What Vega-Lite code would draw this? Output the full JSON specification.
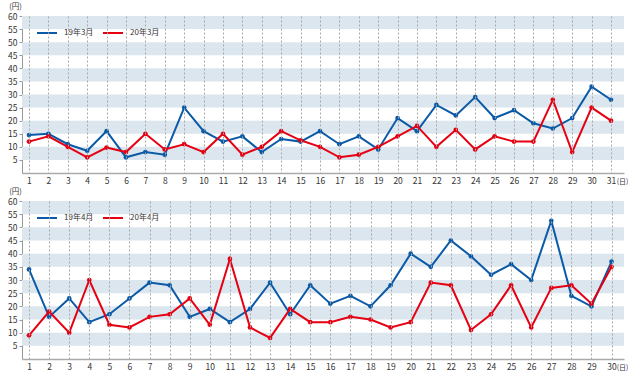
{
  "$schema": "https://vega.github.io/schema/vega-lite/v6.json",
  "padding": {"left": 7, "top": 2, "right": 0, "bottom": 0},
  "spacing": 2,
  "config": {
    "font": "Noto Sans CJK JP",
    "view": {"stroke": null},
    "axis": {"labelColor": "#333", "titleColor": "#333", "labelFont": "Noto Sans CJK JP", "titleFont": "Noto Sans CJK JP", "labelOverlap": false},
    "legend": {"labelFont": "Noto Sans CJK JP"}
  },
  "datasets": {
    "bands": [
      {"lo": 5, "hi": 10}, {"lo": 15, "hi": 20}, {"lo": 25, "hi": 30},
      {"lo": 35, "hi": 40}, {"lo": 45, "hi": 50}, {"lo": 55, "hi": 60}
    ],
    "mar": [
      {"day": 1, "series": "19年3月", "value": 14.5}, {"day": 2, "series": "19年3月", "value": 15}, {"day": 3, "series": "19年3月", "value": 11},
      {"day": 4, "series": "19年3月", "value": 8.5}, {"day": 5, "series": "19年3月", "value": 16}, {"day": 6, "series": "19年3月", "value": 6},
      {"day": 7, "series": "19年3月", "value": 8}, {"day": 8, "series": "19年3月", "value": 7}, {"day": 9, "series": "19年3月", "value": 25},
      {"day": 10, "series": "19年3月", "value": 16}, {"day": 11, "series": "19年3月", "value": 12}, {"day": 12, "series": "19年3月", "value": 14},
      {"day": 13, "series": "19年3月", "value": 8}, {"day": 14, "series": "19年3月", "value": 13}, {"day": 15, "series": "19年3月", "value": 12},
      {"day": 16, "series": "19年3月", "value": 16}, {"day": 17, "series": "19年3月", "value": 11}, {"day": 18, "series": "19年3月", "value": 14},
      {"day": 19, "series": "19年3月", "value": 9}, {"day": 20, "series": "19年3月", "value": 21}, {"day": 21, "series": "19年3月", "value": 16},
      {"day": 22, "series": "19年3月", "value": 26}, {"day": 23, "series": "19年3月", "value": 22}, {"day": 24, "series": "19年3月", "value": 29},
      {"day": 25, "series": "19年3月", "value": 21}, {"day": 26, "series": "19年3月", "value": 24}, {"day": 27, "series": "19年3月", "value": 19},
      {"day": 28, "series": "19年3月", "value": 17}, {"day": 29, "series": "19年3月", "value": 21}, {"day": 30, "series": "19年3月", "value": 33},
      {"day": 31, "series": "19年3月", "value": 28},
      {"day": 1, "series": "20年3月", "value": 12}, {"day": 2, "series": "20年3月", "value": 14}, {"day": 3, "series": "20年3月", "value": 10},
      {"day": 4, "series": "20年3月", "value": 6}, {"day": 5, "series": "20年3月", "value": 9.7}, {"day": 6, "series": "20年3月", "value": 8},
      {"day": 7, "series": "20年3月", "value": 15}, {"day": 8, "series": "20年3月", "value": 9}, {"day": 9, "series": "20年3月", "value": 11},
      {"day": 10, "series": "20年3月", "value": 8}, {"day": 11, "series": "20年3月", "value": 15}, {"day": 12, "series": "20年3月", "value": 7},
      {"day": 13, "series": "20年3月", "value": 10}, {"day": 14, "series": "20年3月", "value": 16}, {"day": 15, "series": "20年3月", "value": 12.5},
      {"day": 16, "series": "20年3月", "value": 10}, {"day": 17, "series": "20年3月", "value": 6}, {"day": 18, "series": "20年3月", "value": 7},
      {"day": 19, "series": "20年3月", "value": 10}, {"day": 20, "series": "20年3月", "value": 14}, {"day": 21, "series": "20年3月", "value": 18},
      {"day": 22, "series": "20年3月", "value": 10}, {"day": 23, "series": "20年3月", "value": 16.5}, {"day": 24, "series": "20年3月", "value": 9},
      {"day": 25, "series": "20年3月", "value": 14}, {"day": 26, "series": "20年3月", "value": 12}, {"day": 27, "series": "20年3月", "value": 12},
      {"day": 28, "series": "20年3月", "value": 28}, {"day": 29, "series": "20年3月", "value": 8}, {"day": 30, "series": "20年3月", "value": 25},
      {"day": 31, "series": "20年3月", "value": 20}
    ],
    "apr": [
      {"day": 1, "series": "19年4月", "value": 34}, {"day": 2, "series": "19年4月", "value": 16}, {"day": 3, "series": "19年4月", "value": 23},
      {"day": 4, "series": "19年4月", "value": 14}, {"day": 5, "series": "19年4月", "value": 17}, {"day": 6, "series": "19年4月", "value": 23},
      {"day": 7, "series": "19年4月", "value": 29}, {"day": 8, "series": "19年4月", "value": 28}, {"day": 9, "series": "19年4月", "value": 16},
      {"day": 10, "series": "19年4月", "value": 19}, {"day": 11, "series": "19年4月", "value": 14}, {"day": 12, "series": "19年4月", "value": 19},
      {"day": 13, "series": "19年4月", "value": 29}, {"day": 14, "series": "19年4月", "value": 17}, {"day": 15, "series": "19年4月", "value": 28},
      {"day": 16, "series": "19年4月", "value": 21}, {"day": 17, "series": "19年4月", "value": 24}, {"day": 18, "series": "19年4月", "value": 20},
      {"day": 19, "series": "19年4月", "value": 28}, {"day": 20, "series": "19年4月", "value": 40}, {"day": 21, "series": "19年4月", "value": 35},
      {"day": 22, "series": "19年4月", "value": 45}, {"day": 23, "series": "19年4月", "value": 39}, {"day": 24, "series": "19年4月", "value": 32},
      {"day": 25, "series": "19年4月", "value": 36}, {"day": 26, "series": "19年4月", "value": 30}, {"day": 27, "series": "19年4月", "value": 52.5},
      {"day": 28, "series": "19年4月", "value": 24}, {"day": 29, "series": "19年4月", "value": 20}, {"day": 30, "series": "19年4月", "value": 37},
      {"day": 1, "series": "20年4月", "value": 9}, {"day": 2, "series": "20年4月", "value": 18}, {"day": 3, "series": "20年4月", "value": 10},
      {"day": 4, "series": "20年4月", "value": 30}, {"day": 5, "series": "20年4月", "value": 13}, {"day": 6, "series": "20年4月", "value": 12},
      {"day": 7, "series": "20年4月", "value": 16}, {"day": 8, "series": "20年4月", "value": 17}, {"day": 9, "series": "20年4月", "value": 23},
      {"day": 10, "series": "20年4月", "value": 13}, {"day": 11, "series": "20年4月", "value": 38}, {"day": 12, "series": "20年4月", "value": 12},
      {"day": 13, "series": "20年4月", "value": 8}, {"day": 14, "series": "20年4月", "value": 19}, {"day": 15, "series": "20年4月", "value": 14},
      {"day": 16, "series": "20年4月", "value": 14}, {"day": 17, "series": "20年4月", "value": 16}, {"day": 18, "series": "20年4月", "value": 15},
      {"day": 19, "series": "20年4月", "value": 12}, {"day": 20, "series": "20年4月", "value": 14}, {"day": 21, "series": "20年4月", "value": 29},
      {"day": 22, "series": "20年4月", "value": 28}, {"day": 23, "series": "20年4月", "value": 11}, {"day": 24, "series": "20年4月", "value": 17},
      {"day": 25, "series": "20年4月", "value": 28}, {"day": 26, "series": "20年4月", "value": 12}, {"day": 27, "series": "20年4月", "value": 27},
      {"day": 28, "series": "20年4月", "value": 28}, {"day": 29, "series": "20年4月", "value": 21}, {"day": 30, "series": "20年4月", "value": 35}
    ]
  },
  "resolve": {"scale": {"color": "independent", "x": "independent"}, "legend": {"color": "independent"}},
  "vconcat": [
    {
      "width": 602, "height": 157,
      "layer": [
        {
          "data": {"name": "bands"},
          "mark": {"type": "rect", "color": "#dce6ee"},
          "encoding": {
            "y": {"field": "lo", "type": "quantitative", "scale": {"domain": [0, 60], "nice": false},
              "axis": {"values": [5,10,15,20,25,30,35,40,45,50,55,60], "labelOverlap": false, "grid": false, "domainColor": "#999", "tickColor": "#999", "tickSize": 3, "labelFontSize": 8.5, "labelPadding": 2,
                "title": "(円)", "titleAngle": 0, "titleX": -7, "titleY": -10, "titleAlign": "center", "titleBaseline": "middle", "titleFontSize": 7.5, "titleFontWeight": "normal"}},
            "y2": {"field": "hi"}
          }
        },
        {
          "data": {"name": "mar"},
          "mark": {"type": "line", "strokeWidth": 2},
          "encoding": {
            "x": {"field": "day", "type": "quantitative", "scale": {"domain": [0.64, 31.67], "nice": false, "zero": false},
              "axis": {"values": [1,2,3,4,5,6,7,8,9,10,11,12,13,14,15,16,17,18,19,20,21,22,23,24,25,26,27,28,29,30,31], "labelOverlap": false, "format": "d", "zindex": 1, "grid": true, "gridColor": "#a8a8a8", "gridDash": [2, 2], "gridWidth": 1, "ticks": false, "domainColor": "#aaa", "domainWidth": 1.5, "labelFontSize": 8.5, "labelPadding": 3,
                "title": "(日)", "titleX": 600, "titleY": 8, "titleAlign": "center", "titleBaseline": "middle", "titleFontSize": 7, "titleFontWeight": "normal"}},
            "y": {"field": "value", "type": "quantitative", "scale": {"domain": [0, 60], "nice": false},
              "axis": {"values": [5,10,15,20,25,30,35,40,45,50,55,60], "labelOverlap": false, "grid": false, "domainColor": "#999", "tickColor": "#999", "tickSize": 3, "labelFontSize": 8.5, "labelPadding": 2,
                "title": "(円)", "titleAngle": 0, "titleX": -7, "titleY": -10, "titleAlign": "center", "titleBaseline": "middle", "titleFontSize": 7.5, "titleFontWeight": "normal"}},
            "color": {"field": "series", "type": "nominal", "scale": {"domain": ["19年3月", "20年3月"], "range": ["#0b5aa8", "#e60012"]},
              "legend": {"title": null, "orient": "none", "legendX": 14, "legendY": 6, "direction": "horizontal", "symbolType": "stroke", "symbolSize": 400, "symbolStrokeWidth": 2, "labelFontSize": 8, "labelColor": "#333", "columnPadding": 5, "labelOffset": 6, "padding": 0}}
          }
        },
        {
          "data": {"name": "mar"},
          "mark": {"type": "point", "filled": true, "size": 22, "opacity": 1},
          "encoding": {
            "x": {"field": "day", "type": "quantitative", "scale": {"domain": [0.64, 31.67], "nice": false, "zero": false},
              "axis": {"values": [1,2,3,4,5,6,7,8,9,10,11,12,13,14,15,16,17,18,19,20,21,22,23,24,25,26,27,28,29,30,31], "labelOverlap": false, "format": "d", "zindex": 1, "grid": true, "gridColor": "#a8a8a8", "gridDash": [2, 2], "gridWidth": 1, "ticks": false, "domainColor": "#aaa", "domainWidth": 1.5, "labelFontSize": 8.5, "labelPadding": 3,
                "title": "(日)", "titleX": 600, "titleY": 8, "titleAlign": "center", "titleBaseline": "middle", "titleFontSize": 7, "titleFontWeight": "normal"}},
            "y": {"field": "value", "type": "quantitative", "scale": {"domain": [0, 60], "nice": false},
              "axis": {"values": [5,10,15,20,25,30,35,40,45,50,55,60], "labelOverlap": false, "grid": false, "domainColor": "#999", "tickColor": "#999", "tickSize": 3, "labelFontSize": 8.5, "labelPadding": 2,
                "title": "(円)", "titleAngle": 0, "titleX": -7, "titleY": -10, "titleAlign": "center", "titleBaseline": "middle", "titleFontSize": 7.5, "titleFontWeight": "normal"}},
            "color": {"field": "series", "type": "nominal", "legend": null}
          }
        }
      ]
    },
    {
      "width": 602, "height": 158,
      "layer": [
        {
          "data": {"name": "bands"},
          "mark": {"type": "rect", "color": "#dce6ee"},
          "encoding": {
            "y": {"field": "lo", "type": "quantitative", "scale": {"domain": [0, 60], "nice": false},
              "axis": {"values": [5,10,15,20,25,30,35,40,45,50,55,60], "labelOverlap": false, "grid": false, "domainColor": "#999", "tickColor": "#999", "tickSize": 3, "labelFontSize": 8.5, "labelPadding": 2,
                "title": "(円)", "titleAngle": 0, "titleX": -7, "titleY": -10, "titleAlign": "center", "titleBaseline": "middle", "titleFontSize": 7.5, "titleFontWeight": "normal"}},
            "y2": {"field": "hi"}
          }
        },
        {
          "data": {"name": "apr"},
          "mark": {"type": "line", "strokeWidth": 2},
          "encoding": {
            "x": {"field": "day", "type": "quantitative", "scale": {"domain": [0.65, 30.62], "nice": false, "zero": false},
              "axis": {"values": [1,2,3,4,5,6,7,8,9,10,11,12,13,14,15,16,17,18,19,20,21,22,23,24,25,26,27,28,29,30], "labelOverlap": false, "format": "d", "zindex": 1, "grid": true, "gridColor": "#a8a8a8", "gridDash": [2, 2], "gridWidth": 1, "ticks": false, "domainColor": "#aaa", "domainWidth": 1.5, "labelFontSize": 8.5, "labelPadding": 3,
                "title": "(日)", "titleX": 600, "titleY": 8, "titleAlign": "center", "titleBaseline": "middle", "titleFontSize": 7, "titleFontWeight": "normal"}},
            "y": {"field": "value", "type": "quantitative", "scale": {"domain": [0, 60], "nice": false},
              "axis": {"values": [5,10,15,20,25,30,35,40,45,50,55,60], "labelOverlap": false, "grid": false, "domainColor": "#999", "tickColor": "#999", "tickSize": 3, "labelFontSize": 8.5, "labelPadding": 2,
                "title": "(円)", "titleAngle": 0, "titleX": -7, "titleY": -10, "titleAlign": "center", "titleBaseline": "middle", "titleFontSize": 7.5, "titleFontWeight": "normal"}},
            "color": {"field": "series", "type": "nominal", "scale": {"domain": ["19年4月", "20年4月"], "range": ["#0b5aa8", "#e60012"]},
              "legend": {"title": null, "orient": "none", "legendX": 14, "legendY": 6, "direction": "horizontal", "symbolType": "stroke", "symbolSize": 400, "symbolStrokeWidth": 2, "labelFontSize": 8, "labelColor": "#333", "columnPadding": 5, "labelOffset": 6, "padding": 0}}
          }
        },
        {
          "data": {"name": "apr"},
          "mark": {"type": "point", "filled": true, "size": 22, "opacity": 1},
          "encoding": {
            "x": {"field": "day", "type": "quantitative", "scale": {"domain": [0.65, 30.62], "nice": false, "zero": false},
              "axis": {"values": [1,2,3,4,5,6,7,8,9,10,11,12,13,14,15,16,17,18,19,20,21,22,23,24,25,26,27,28,29,30], "labelOverlap": false, "format": "d", "zindex": 1, "grid": true, "gridColor": "#a8a8a8", "gridDash": [2, 2], "gridWidth": 1, "ticks": false, "domainColor": "#aaa", "domainWidth": 1.5, "labelFontSize": 8.5, "labelPadding": 3,
                "title": "(日)", "titleX": 600, "titleY": 8, "titleAlign": "center", "titleBaseline": "middle", "titleFontSize": 7, "titleFontWeight": "normal"}},
            "y": {"field": "value", "type": "quantitative", "scale": {"domain": [0, 60], "nice": false},
              "axis": {"values": [5,10,15,20,25,30,35,40,45,50,55,60], "labelOverlap": false, "grid": false, "domainColor": "#999", "tickColor": "#999", "tickSize": 3, "labelFontSize": 8.5, "labelPadding": 2,
                "title": "(円)", "titleAngle": 0, "titleX": -7, "titleY": -10, "titleAlign": "center", "titleBaseline": "middle", "titleFontSize": 7.5, "titleFontWeight": "normal"}},
            "color": {"field": "series", "type": "nominal", "legend": null}
          }
        }
      ]
    }
  ]
}
